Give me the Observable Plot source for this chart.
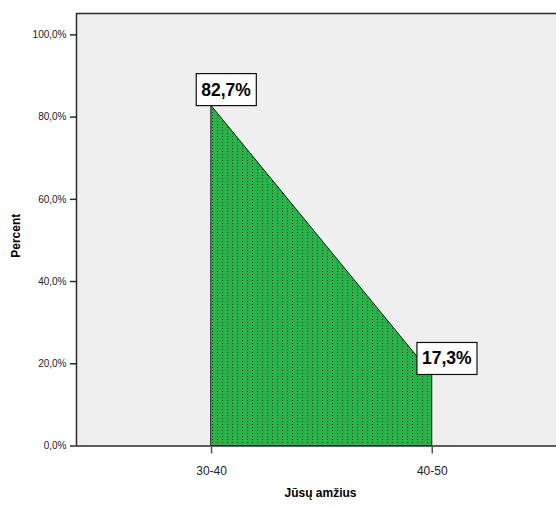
<!DOCTYPE html>
<html><head><meta charset="utf-8">
<script src="https://cdn.jsdelivr.net/npm/d3@7"></script>
<script src="https://cdn.jsdelivr.net/npm/@observablehq/plot@0.6"></script>
<style>body{margin:0;background:#fff;overflow:hidden}</style>
</head><body><div id="chart"></div>
<script>
const categories = ["30-40", "40-50"];
const percents = [82.7, 17.3];
const yTicks = [0, 20, 40, 60, 80, 100];
const xLabel = "Jūsų amžius";
const yLabel = "Percent";

const fmtPct = d => d.toFixed(1).replace(".", ",") + "%";
const data = categories.map((c, i) => ({pos: i + 1, cat: c, value: percents[i], label: fmtPct(percents[i])}));
const xMin = 0.388, xMax = 2.563, yMax = 105.2;

const chart = Plot.plot({
  width: 556, height: 508,
  marginLeft: 76, marginRight: 0, marginTop: 13, marginBottom: 62.5,
  style: {fontFamily: "'Liberation Sans', Arial, sans-serif", background: "#fff", color: "#222"},
  x: {domain: [xMin, xMax]},
  y: {domain: [0, yMax]},
  marks: [
    Plot.frame({fill: "#efefef", stroke: null}),
    Plot.areaY(data, {x: "pos", y: "value", fill: "#2ab34a", stroke: "#1a1a1a", strokeWidth: 1}),
    Plot.ruleY([0, yMax], {stroke: "#2a2a2a", strokeWidth: 1.5}),
    Plot.ruleX([xMin], {stroke: "#2a2a2a", strokeWidth: 1.5}),
    Plot.axisY({ticks: yTicks, tickSize: 6, tickPadding: 4, tickFormat: fmtPct, fontSize: 10, label: null, stroke: "#2a2a2a", strokeWidth: 1.5}),
    Plot.axisX({ticks: data.map(d => d.pos), tickSize: 8, tickPadding: 12, tickFormat: p => categories[p - 1], fontSize: 12, label: null, stroke: "#555", strokeWidth: 1.5}),
    Plot.text(data, {x: "pos", y: "value", text: "label", dx: 14.5, dy: -16, fontSize: 17.5, fontWeight: "bold", fill: "#000"}),
    Plot.text([xLabel], {frameAnchor: "bottom", textAnchor: "middle", lineAnchor: "middle", dx: 4, dy: 47, fontSize: 12, fontWeight: "bold", fill: "#000"}),
    Plot.text([yLabel], {frameAnchor: "left", textAnchor: "middle", lineAnchor: "middle", dx: -60, dy: 6, rotate: -90, fontSize: 12, fontWeight: "bold", fill: "#000"})
  ]
});
document.getElementById("chart").appendChild(chart);

// dotted pattern for the area fill
const svg = d3.select(chart);
const defs = svg.insert("defs", ":first-child");
const pat = defs.append("pattern").attr("id", "dots").attr("patternUnits", "userSpaceOnUse")
  .attr("width", 5).attr("height", 3);
pat.append("rect").attr("width", 5).attr("height", 3).attr("fill", "#2ab34a");
pat.append("rect").attr("x", 2).attr("y", 1).attr("width", 1).attr("height", 1).attr("fill", "#123d1a");
svg.selectAll("g[aria-label=area] path").attr("fill", "url(#dots)");

// boxes behind value labels (first text mark)
const labelGroup = chart.querySelector("g[aria-label=text]");
labelGroup.querySelectorAll("text").forEach(function(el) {
  const b = el.getBBox();
  const r = document.createElementNS("http://www.w3.org/2000/svg", "rect");
  r.setAttribute("x", b.x - 5);
  r.setAttribute("y", b.y + b.height / 2 - 16);
  r.setAttribute("width", b.width + 10);
  r.setAttribute("height", 32);
  r.setAttribute("fill", "#fff");
  r.setAttribute("stroke", "#111");
  r.setAttribute("stroke-width", 1.2);
  const t = el.getAttribute("transform");
  if (t) r.setAttribute("transform", t);
  el.parentNode.insertBefore(r, el);
});
</script></body></html>
